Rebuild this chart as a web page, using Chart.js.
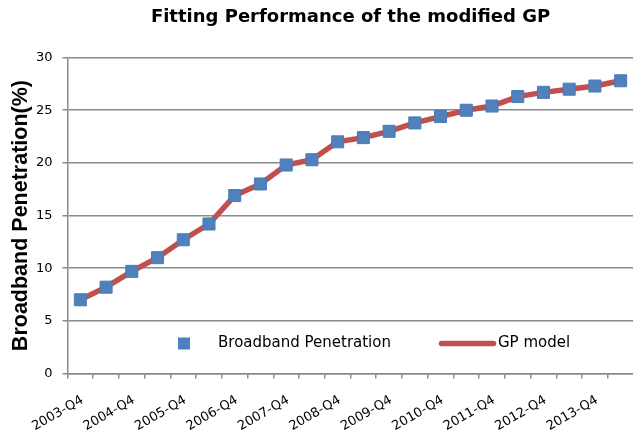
<!DOCTYPE html>
<html><head><meta charset="utf-8">
<script src="https://cdn.jsdelivr.net/npm/chart.js@4/dist/chart.umd.min.js"></script>
<style>html,body{margin:0;padding:0;background:#fff;overflow:hidden;width:633px;height:433px;}</style>
</head><body>
<canvas id="c" width="643" height="433"></canvas>
<script>
// ---- data ----
const categories = ['2003-Q4','2004-Q2','2004-Q4','2005-Q2','2005-Q4','2006-Q2','2006-Q4','2007-Q2','2007-Q4','2008-Q2','2008-Q4','2009-Q2','2009-Q4','2010-Q2','2010-Q4','2011-Q2','2011-Q4','2012-Q2','2012-Q4','2013-Q2','2013-Q4','2014-Q2'];
const broadbandPenetration = [7.0, 8.2, 9.7, 11.0, 12.7, 14.2, 16.9, 18.0, 19.8, 20.3, 22.0, 22.4, 23.0, 23.8, 24.4, 25.0, 25.4, 26.3, 26.7, 27.0, 27.3, 27.8];
const gpModel = [7.0, 8.2, 9.7, 11.0, 12.7, 14.2, 16.9, 18.0, 19.8, 20.3, 22.0, 22.4, 23.0, 23.8, 24.4, 25.0, 25.4, 26.3, 26.7, 27.0, 27.3, 27.8];
const xTickLabels = ['2003-Q4','2004-Q4','2005-Q4','2006-Q4','2007-Q4','2008-Q4','2009-Q4','2010-Q4','2011-Q4','2012-Q4','2013-Q4'];
const yTicks = [0, 5, 10, 15, 20, 25, 30];

const BLUE = '#4F81BD', RED = '#C0504D', GRID = '#8a8a8a';

const inAreaLegend = {
  id: 'inAreaLegend',
  afterDatasetsDraw(chart) {
    const ctx = chart.ctx, a = chart.chartArea;
    const ds = chart.data.datasets;
    const y = a.bottom - 30;
    ctx.save();
    ctx.font = '15px "DejaVu Sans"';
    ctx.textBaseline = 'middle';
    ctx.textAlign = 'left';
    const sx = a.left + 116.5;
    ctx.fillStyle = ds[0].backgroundColor;
    ctx.fillRect(sx - 6, y - 6, 12, 12);
    ctx.fillStyle = '#000';
    ctx.fillText(ds[0].label, a.left + 150.5, y);
    ctx.strokeStyle = ds[1].borderColor;
    ctx.lineWidth = 5.5;
    ctx.lineCap = 'round';
    ctx.beginPath();
    ctx.moveTo(a.left + 374, y);
    ctx.lineTo(a.left + 426, y);
    ctx.stroke();
    ctx.fillText(ds[1].label, a.left + 430.5, y);
    ctx.restore();
  }
};

new Chart(document.getElementById('c'), {
  type: 'line',
  data: {
    labels: categories,
    datasets: [
      {
        label: 'Broadband Penetration',
        data: broadbandPenetration,
        showLine: false,
        pointStyle: 'rect',
        pointRadius: 8.5,
        backgroundColor: BLUE,
        borderColor: '#4a7ab5',
        pointBorderWidth: 1
      },
      {
        label: 'GP model',
        data: gpModel,
        borderColor: RED,
        backgroundColor: RED,
        borderWidth: 5.5,
        pointRadius: 0,
        tension: 0,
        fill: false
      }
    ]
  },
  options: {
    responsive: false,
    animation: false,
    devicePixelRatio: 1,
    layout: { padding: { left: 0, right: 0, top: 0, bottom: 0 } },
    plugins: {
      legend: { display: false },
      tooltip: { enabled: false },
      title: {
        display: true,
        fullSize: false,
        text: 'Fitting Performance of the modified GP',
        color: '#000',
        font: { family: 'DejaVu Sans', weight: 'bold', size: 18 },
        padding: { top: 7, bottom: 29 }
      }
    },
    scales: {
      x: {
        type: 'category',
        offset: true,
        grid: { offset: true, drawOnChartArea: false, drawTicks: true, tickLength: 5, color: GRID, lineWidth: 1.5 },
        border: { color: GRID, width: 1.5 },
        ticks: {
          autoSkip: false, maxRotation: 30, minRotation: 30, padding: 14, labelOffset: 2,
          color: '#000',
          font: { family: 'DejaVu Sans', size: 13 },
          callback: function (v) { const l = this.getLabelForValue(v); return xTickLabels.includes(l) ? l : ''; }
        },
        afterFit(s) { s.height = 59.5; }
      },
      y: {
        min: yTicks[0], max: yTicks[yTicks.length - 1],
        afterBuildTicks(s) { s.ticks = yTicks.map(v => ({ value: v })); },
        grid: { color: GRID, lineWidth: 1.5, tickLength: 5 },
        border: { color: GRID, width: 1.5 },
        ticks: { padding: 10, color: '#000', font: { family: 'DejaVu Sans', size: 13 } },
        title: {
          display: true,
          text: 'Broadband Penetration(%)',
          color: '#000',
          font: { family: 'Liberation Sans', weight: 'bold', size: 21.5 },
          padding: { top: 8, bottom: 0 }
        },
        afterFit(s) { s.width = 67.5; }
      }
    }
  },
  plugins: [inAreaLegend]
});
</script>
</body></html>
